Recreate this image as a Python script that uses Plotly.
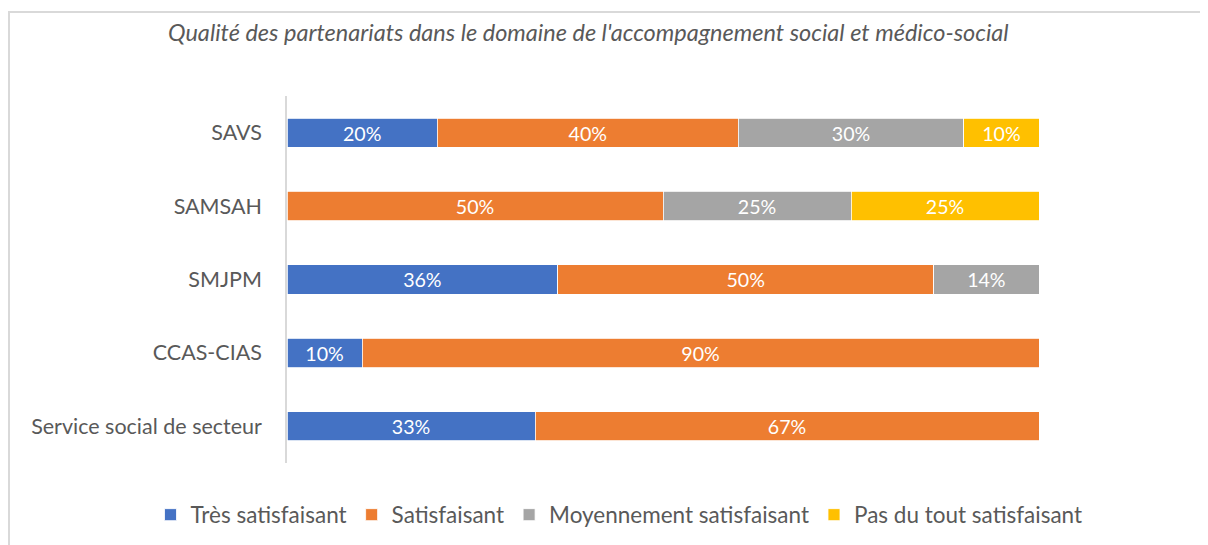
import plotly.graph_objects as go

categories = ["SAVS", "SAMSAH", "SMJPM", "CCAS-CIAS", "Service social de secteur"]
series_names = ["Très satisfaisant", "Satisfaisant", "Moyennement satisfaisant", "Pas du tout satisfaisant"]
tres_satisfaisant = [20, 0, 36, 10, 33]
satisfaisant = [40, 50, 50, 90, 67]
moyennement = [30, 25, 14, 0, 0]
pas_du_tout = [10, 25, 0, 0, 0]
colors = ["#4472C4", "#ED7D31", "#A5A5A5", "#FFC000"]
title_text = "Qualité des partenariats dans le domaine de l'accompagnement social et médico-social"

# page is rendered with an 8px body margin, so work in page coords minus 8
OFF = 8
W, H = 1208 - OFF, 545 - OFF
MT = 96 - OFF
MB = H - (463 - OFF)
PH = H - MT - MB

FONT = "Lato, 'Open Sans', sans-serif"
FS = 21.5

fig = go.Figure()
for name, vals, col in zip(series_names, [tres_satisfaisant, satisfaisant, moyennement, pas_du_tout], colors):
    fig.add_trace(go.Bar(
        y=categories, x=vals, name=name, orientation="h",
        marker=dict(color=col, line=dict(color="white", width=0.8)),
        text=[f"{v}%" if v > 0 else "" for v in vals],
        textposition="inside", insidetextanchor="middle",
        textfont=dict(color="white", size=21, family=FONT),
        hoverinfo="skip",
    ))

def px_x(px):
    return (px - OFF) / W

def px_y(py):
    return (H - MB - (py - OFF)) / PH

fig.update_layout(
    width=W, height=H,
    barmode="stack", bargap=0.6,
    margin=dict(l=0, r=0, t=MT, b=MB),
    plot_bgcolor="white", paper_bgcolor="white",
    showlegend=True,
    legend=dict(orientation="h", xref="paper", yref="container",
                x=px_x(619), xanchor="center", y=1 - (515 - OFF) / H, yanchor="middle",
                font=dict(size=22.5, color="#595959", family=FONT), traceorder="normal",
                itemwidth=30),
    xaxis=dict(domain=[px_x(287), px_x(1039)], range=[0, 100], showgrid=False,
               showticklabels=False, zeroline=False, fixedrange=True),
    yaxis=dict(categoryorder="array", categoryarray=categories, autorange="reversed",
               showline=True, linecolor="#D9D9D9", linewidth=1.5, ticks="", ticklen=0,
               tickfont=dict(size=FS, color="#595959", family=FONT), ticklabelstandoff=19),
    annotations=[dict(text=f"<i>{title_text}</i>", x=px_x(588), y=px_y(32), xref="paper", yref="paper",
                      showarrow=False, xanchor="center", yanchor="middle",
                      font=dict(size=23.5, color="#595959", family=FONT))],
    shapes=[dict(type="rect", xref="paper", yref="paper",
                 x0=px_x(9), x1=px_x(1240), y0=px_y(580), y1=px_y(12),
                 line=dict(color="#D9D9D9", width=2), fillcolor="rgba(0,0,0,0)", layer="below")],
)

fig.write_html("out.html")
